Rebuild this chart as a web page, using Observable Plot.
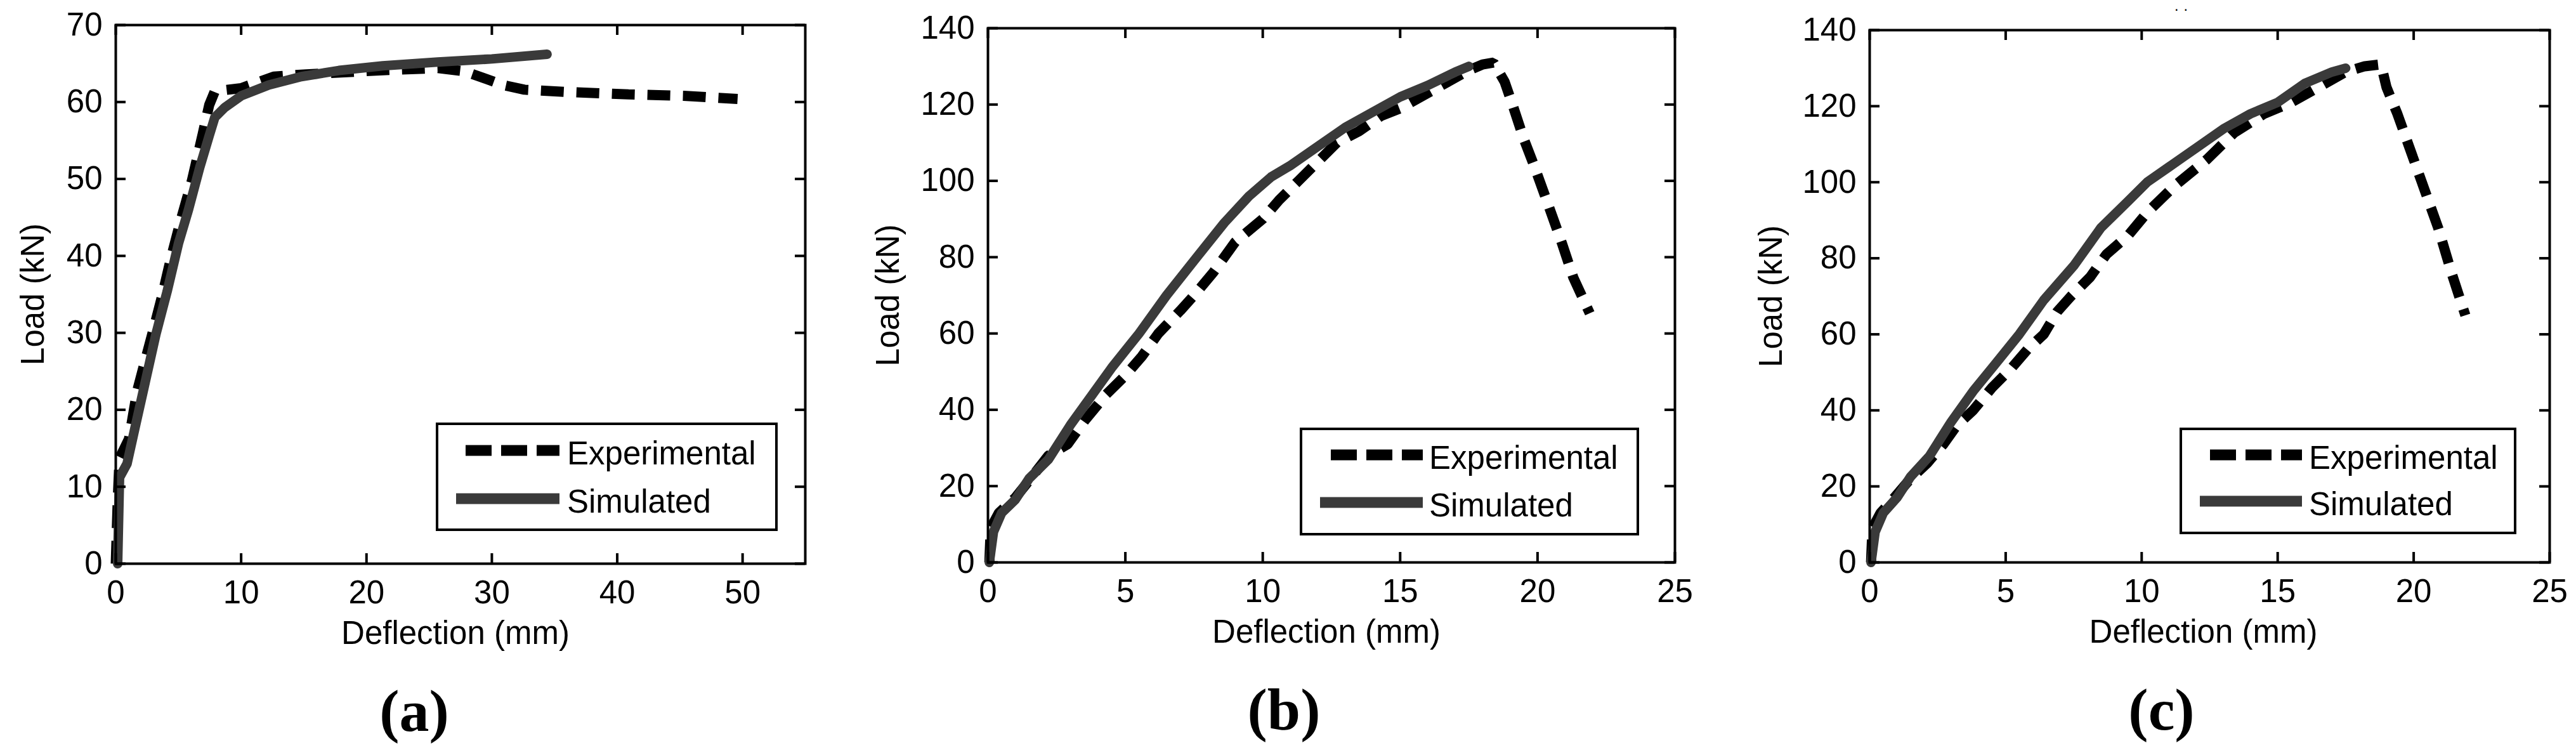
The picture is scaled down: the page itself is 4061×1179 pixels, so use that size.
<!DOCTYPE html>
<html>
<head>
<meta charset="utf-8">
<script src="https://cdn.jsdelivr.net/npm/d3@7"></script>
<script src="https://cdn.jsdelivr.net/npm/@observablehq/plot@0.6"></script>
<style>
  html, body { margin: 0; padding: 0; background: #fff; }
  #page { position: relative; width: 4061px; height: 1179px; overflow: hidden; background: #fff; }
  #page > svg { position: absolute; top: 0; }
  .legend { position: absolute; box-sizing: border-box; border: 4px solid #000; background: #fff; }
  .legend span { position: absolute; font: 51px "Liberation Sans", sans-serif; line-height: 1; color: #000; white-space: nowrap; transform: translateY(calc(-50% + 4px)); }
  .legend i { position: absolute; display: block; height: 17px; transform: translateY(-50%); }
</style>
</head>
<body>
<div id="page"></div>
<script>
// Panel (a)
const expAx = [0, 0.15, 0.3, 1.05, 1.7, 2.2, 3, 3.7, 4.4, 5.2, 6.06, 6.9, 7.45, 7.9, 10, 12.6, 15.2, 18.7, 22.2, 25.7, 27.8, 29.2, 30.9, 32.6, 36.1, 40.9, 45.3, 49.6];
const expAy = [0, 8, 13.7, 16.2, 22.4, 25.5, 30.4, 34.8, 39.7, 44.7, 49.7, 55.6, 59.6, 61.4, 61.8, 63.3, 63.6, 63.9, 64.2, 64.4, 64, 63.2, 62.2, 61.6, 61.3, 61, 60.8, 60.4];
const simAx = [0.15, 0.3, 0.9, 1.5, 2.35, 3.2, 4.1, 5, 5.8, 6.7, 7.45, 7.9, 8.7, 10, 12.2, 14.8, 17.8, 21.3, 25.7, 30, 34.4];
const simAy = [0, 11.2, 13, 17.4, 23.6, 29.8, 35.4, 41.6, 46, 51.5, 55.6, 58, 59.3, 60.8, 62.2, 63.3, 64.1, 64.7, 65.2, 65.6, 66.2];
// Panel (b)
const expBx = [0.05, 0.1, 0.4, 1, 1.5, 2.2, 2.9, 3.5, 4.3, 5, 5.6, 6.2, 7, 7.5, 8.2, 9, 10, 10.6, 11.3, 12, 12.7, 13.5, 14.3, 15, 16, 17.5, 18, 18.4, 18.8, 19.07, 19.5, 19.9, 20.4, 20.9, 21.3, 21.9];
const expBy = [0, 9, 13, 17, 21.5, 28, 31, 37, 44, 49, 54, 60, 66, 70, 76, 84, 90, 95, 100, 105, 110, 113, 117, 119, 123, 129, 130.5, 131, 126, 120.4, 111, 103.5, 93.5, 83.4, 74.7, 65.3];
const simBx = [0.05, 0.2, 0.5, 1, 1.5, 2.2, 3, 3.8, 4.5, 5.5, 6.5, 7.6, 8.6, 9.5, 10.3, 11, 12, 13, 14, 15, 16, 17, 17.5];
const simBy = [0, 8, 13, 16.5, 22, 27, 36, 44, 51, 60, 70, 80, 89, 96, 101, 104, 109, 114, 118, 122, 125, 128.5, 130];
// Panel (c)
const expCx = [0.05, 0.1, 0.4, 0.9, 1.5, 2.1, 2.7, 3.2, 3.8, 4.5, 5.2, 5.8, 6.4, 6.9, 7.4, 8.1, 8.7, 9.5, 10.2, 11.2, 12.4, 13.4, 14.5, 15.5, 16.5, 17.5, 18.2, 18.8, 19, 19.4, 19.9, 20.4, 20.9, 21.4, 21.9];
const expCy = [0, 9, 13, 17, 22, 26, 31, 36, 40, 46, 51, 56, 60, 66, 70, 75, 81, 86, 92, 99, 106, 113, 118, 121, 125, 129, 130.5, 131, 125, 118, 108, 98, 88, 76, 65];
const simCx = [0.05, 0.2, 0.5, 1, 1.5, 2.2, 3, 3.8, 4.6, 5.5, 6.4, 7.5, 8.5, 9.5, 10.2, 11, 12, 13, 14, 15, 16, 17, 17.5];
const simCy = [0, 8, 13, 17, 22.5, 28, 37, 45, 52, 60, 69, 78, 88, 95, 100, 104, 109, 114, 118, 121, 126, 129, 130];

const xTicksA = [0, 10, 20, 30, 40, 50];
const yTicksA = [0, 10, 20, 30, 40, 50, 60, 70];
const xTicksB = [0, 5, 10, 15, 20, 25];
const yTicksB = [0, 20, 40, 60, 80, 100, 120, 140];
const seriesNames = ["Experimental", "Simulated"];
const xLabel = "Deflection (mm)";
const yLabel = "Load (kN)";
const FONT = '"Liberation Sans", sans-serif';
const TICK = 16;

const zip = (xs, ys) => xs.map((x, i) => ({x, y: ys[i]}));

const panels = [
  {tag: "(a)", exp: zip(expAx, expAy), sim: zip(simAx, simAy), xDomain: [0, 55], yDomain: [0, 70], xTicks: xTicksA, yTicks: yTicksA,
   svgLeft: 0, svgWidth: 1350, frame: [182, 1269, 39, 888], yLabelDx: -130, xLabelDx: -8, tagDx: -73,
   legend: {box: [687, 666, 539, 171], dash: [43, 191, 40], solid: [28, 191, 116], text: 203}},
  {tag: "(b)", exp: zip(expBx, expBy), sim: zip(simBx, simBy), xDomain: [0, 25], yDomain: [0, 140], xTicks: xTicksB, yTicks: yTicksB,
   svgLeft: 1350, svgWidth: 1350, frame: [207, 1290, 44, 886], yLabelDx: -157, xLabelDx: -8, tagDx: -75,
   legend: {box: [2049, 674, 535, 170], dash: [45, 190, 39], solid: [28, 190, 114], text: 200}},
  {tag: "(c)", exp: zip(expCx, expCy), sim: zip(simCx, simCy), xDomain: [0, 25], yDomain: [0, 140], xTicks: xTicksB, yTicks: yTicksB,
   svgLeft: 2700, svgWidth: 1361, frame: [247, 1319, 47, 886], yLabelDx: -155, xLabelDx: -10, tagDx: -76, specks: true,
   legend: {box: [3436, 674, 531, 168], dash: [44, 189, 39], solid: [28, 189, 112], text: 200}}
];

const page = document.getElementById("page");
const H = 1179;

for (const p of panels) {
  const [fl, fr, ft, fb] = p.frame;
  const svg = Plot.plot({
    width: p.svgWidth,
    height: H,
    marginLeft: fl,
    marginRight: p.svgWidth - fr,
    marginTop: ft,
    marginBottom: H - fb,
    style: {fontFamily: FONT, fontSize: "51px", background: "transparent", color: "#000"},
    x: {domain: p.xDomain},
    y: {domain: p.yDomain},
    marks: [
      Plot.line(p.exp, {x: "x", y: "y", stroke: "#000", strokeWidth: 16, strokeDasharray: "36 20", strokeLinecap: "butt", strokeLinejoin: "miter"}),
      Plot.line(p.sim, {x: "x", y: "y", stroke: "#3a3a3a", strokeWidth: 15, strokeLinejoin: "round"}),
      Plot.axisX({ticks: p.xTicks, anchor: "bottom", tickSize: 0, tickPadding: 26, label: null, tickFormat: d3.format("d")}),
      Plot.axisY({ticks: p.yTicks, anchor: "left", tickSize: 0, tickPadding: 21, label: null, tickFormat: d3.format("d")}),
      Plot.tickX(p.xTicks, {x: d => d, insetTop: (fb - ft) - TICK, stroke: "#000", strokeWidth: 4}),
      Plot.tickX(p.xTicks, {x: d => d, insetBottom: (fb - ft) - TICK, stroke: "#000", strokeWidth: 4}),
      Plot.tickY(p.yTicks, {y: d => d, insetRight: (fr - fl) - TICK, stroke: "#000", strokeWidth: 4}),
      Plot.tickY(p.yTicks, {y: d => d, insetLeft: (fr - fl) - TICK, stroke: "#000", strokeWidth: 4}),
      Plot.frame({stroke: "#000", strokeWidth: 4}),
      Plot.text([xLabel], {frameAnchor: "bottom", dx: p.xLabelDx, dy: 110, lineAnchor: "middle", textAnchor: "middle", fontSize: 51, fill: "#000"}),
      Plot.text([yLabel], {frameAnchor: "left", dx: p.yLabelDx, rotate: -90, lineAnchor: "middle", textAnchor: "middle", fontSize: 51, fill: "#000"}),
      Plot.text([p.tag], {frameAnchor: "bottom", dx: p.tagDx, dy: 233, lineAnchor: "middle", textAnchor: "middle", fontFamily: '"Liberation Serif", serif', fontWeight: "bold", fontSize: 94, fill: "#000"}),
      p.specks ? Plot.text(["\u00b7 \u00b7"], {frameAnchor: "top", dx: -45, dy: -33, lineAnchor: "middle", textAnchor: "middle", fontSize: 24, fill: "#000"}) : null
    ]
  });
  svg.style.left = p.svgLeft + "px";
  page.appendChild(svg);

  const [lx, ly, lw, lh] = p.legend.box;
  const box = document.createElement("div");
  box.className = "legend";
  box.style.cssText = `left:${lx}px;top:${ly}px;width:${lw}px;height:${lh}px`;
  const rows = [
    {name: seriesNames[0], geo: p.legend.dash, bg: "repeating-linear-gradient(to right,#000 0 41px,transparent 41px 56px)"},
    {name: seriesNames[1], geo: p.legend.solid, bg: "#3a3a3a"}
  ];
  for (const r of rows) {
    const [a, b, y] = r.geo;
    const line = document.createElement("i");
    line.style.cssText = `left:${a}px;width:${b - a}px;top:${y}px;background:${r.bg}`;
    const label = document.createElement("span");
    label.textContent = r.name;
    label.style.cssText = `left:${p.legend.text}px;top:${y}px`;
    box.append(line, label);
  }
  page.appendChild(box);
}
</script>
</body>
</html>
